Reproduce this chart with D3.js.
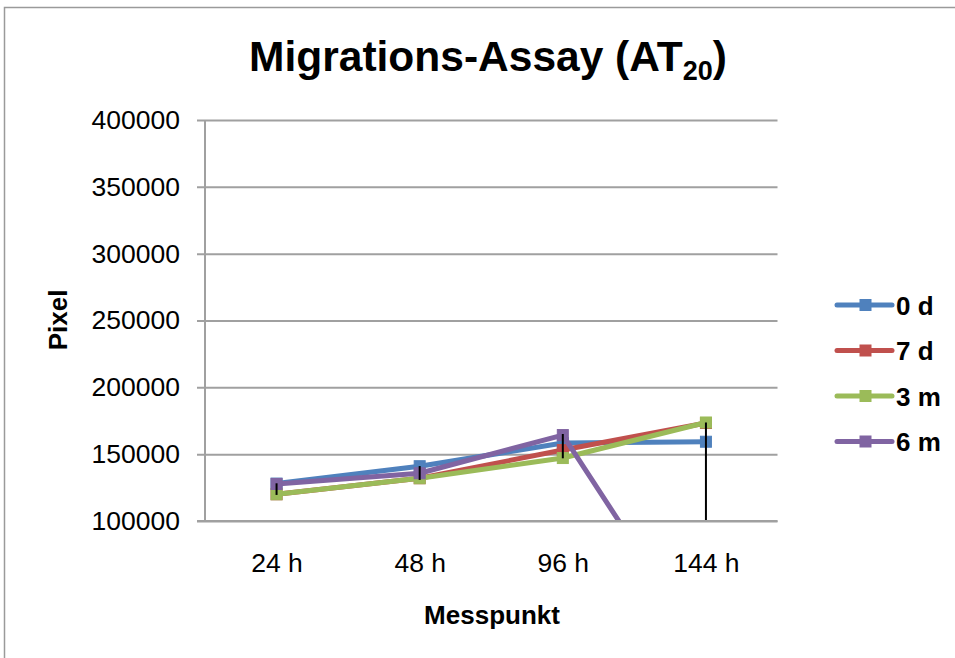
<!DOCTYPE html>
<html>
<head>
<meta charset="utf-8">
<script src="https://cdn.jsdelivr.net/npm/d3@7"></script>
<style>
  html, body { margin: 0; padding: 0; background: #fff; }
  svg { display: block; font-family: "Liberation Sans", Arial, sans-serif; }
</style>
</head>
<body>
<svg id="chart" width="955" height="658"></svg>
<script>
// Measuring points (category axis)
const categories = ["24 h", "48 h", "96 h", "144 h"];

// Migrated pixel area per series
const series0d = [128000, 141000, 158300, 159300];
const series7d = [120000, 132000, 153100, 173300];
const series3m = [120000, 132000, 147100, 173700];
const series6m = [127700, 135700, 164300, 0];

const seriesNames = ["0 d", "7 d", "3 m", "6 m"];
const seriesColors = ["#4F81BD", "#C0504D", "#9BBB59", "#8064A2"];

// Error bar ranges per measuring point
const errLow = [119500, 130700, 146900, 0];
const errHigh = [128200, 141100, 165100, 173700];

// Y axis ticks
const yTicks = [100000, 150000, 200000, 250000, 300000, 350000, 400000];

const seriesData = [series0d, series7d, series3m, series6m];

const svg = d3.select("#chart");
const plot = { left: 205, right: 777.5, top: 120, bottom: 521 };

// Outer chart border
svg.append("rect")
  .attr("x", 4.5).attr("y", 7.5)
  .attr("width", 1000).attr("height", 1000)
  .attr("fill", "#fff")
  .attr("stroke", "#9a9a9a")
  .attr("stroke-width", 1.5);

const x = d3.scalePoint()
  .domain(categories)
  .range([plot.left, plot.right])
  .padding(0.5);

const y = d3.scaleLinear()
  .domain([100000, 400000])
  .range([plot.bottom, plot.top]);

// Horizontal gridlines with tick labels
const yAxis = d3.axisLeft(y)
  .tickValues(yTicks)
  .tickSize(-(plot.right - plot.left) - 8)
  .tickPadding(17)
  .tickFormat(d3.format("d"));

const yg = svg.append("g")
  .attr("transform", `translate(${plot.right},0)`)
  .call(yAxis);
yg.select(".domain").remove();
yg.selectAll(".tick line")
  .attr("x1", -(plot.right - plot.left) - 8)
  .attr("x2", 0)
  .attr("stroke", "#a0a0a0")
  .attr("stroke-width", 2);
yg.selectAll(".tick text")
  .attr("x", -(plot.right - plot.left) - 25)
  .attr("fill", "#000")
  .attr("font-size", 26.5)
  .attr("font-family", "'Liberation Sans', Arial, sans-serif");

// Vertical axis line
svg.append("line")
  .attr("x1", plot.left).attr("x2", plot.left)
  .attr("y1", plot.top).attr("y2", plot.bottom)
  .attr("stroke", "#a0a0a0").attr("stroke-width", 2);

// Category axis labels
const xAxis = d3.axisBottom(x).tickSize(0).tickPadding(32);
const xg = svg.append("g")
  .attr("transform", `translate(0,${plot.bottom})`)
  .call(xAxis);
xg.select(".domain").remove();
xg.selectAll(".tick text")
  .attr("fill", "#000")
  .attr("font-size", 26.5)
  .attr("font-family", "'Liberation Sans', Arial, sans-serif");

// Clip region for the data marks
svg.append("clipPath").attr("id", "plotClip")
  .append("rect")
  .attr("x", plot.left).attr("y", plot.top - 10)
  .attr("width", plot.right - plot.left + 10)
  .attr("height", plot.bottom - plot.top + 10);

const marks = svg.append("g").attr("clip-path", "url(#plotClip)");

const line = d3.line()
  .x((d, i) => x(categories[i]))
  .y(d => y(d));

seriesData.forEach((vals, si) => {
  const g = marks.append("g");
  g.append("path")
    .datum(vals)
    .attr("d", line)
    .attr("fill", "none")
    .attr("stroke", seriesColors[si])
    .attr("stroke-width", 5)
    .attr("stroke-linejoin", "round")
    .attr("stroke-linecap", "round");
  g.selectAll("rect")
    .data(vals)
    .join("rect")
    .attr("x", (d, i) => x(categories[i]) - 5.5)
    .attr("y", d => y(d) - 5.5)
    .attr("width", 11).attr("height", 11)
    .attr("fill", seriesColors[si])
    .attr("stroke", seriesColors[si])
    .attr("stroke-width", 1);
});

// Error bars
svg.append("clipPath").attr("id", "errClip")
  .append("rect")
  .attr("x", plot.left).attr("y", plot.top)
  .attr("width", plot.right - plot.left)
  .attr("height", plot.bottom - plot.top);

svg.append("g").attr("clip-path", "url(#errClip)")
  .selectAll("line")
  .data(categories)
  .join("line")
  .attr("x1", d => x(d)).attr("x2", d => x(d))
  .attr("y1", (d, i) => y(errHigh[i]))
  .attr("y2", (d, i) => y(errLow[i]))
  .attr("stroke", "#000")
  .attr("stroke-width", 2);

// Bottom axis line on top of the marks
svg.append("line")
  .attr("x1", plot.left - 8).attr("x2", plot.right)
  .attr("y1", plot.bottom).attr("y2", plot.bottom)
  .attr("stroke", "#a0a0a0").attr("stroke-width", 2);

// Title with subscript
const title = svg.append("text")
  .attr("x", 488).attr("y", 71)
  .attr("text-anchor", "middle")
  .attr("font-weight", "bold")
  .attr("font-size", 42.5)
  .attr("fill", "#000");
title.append("tspan").text("Migrations-Assay (AT");
title.append("tspan").attr("font-size", 27).attr("dy", 9).text("20");
title.append("tspan").attr("dy", -9).text(")");

// Axis titles
svg.append("text")
  .attr("transform", "translate(67,320) rotate(-90)")
  .attr("text-anchor", "middle")
  .attr("font-weight", "bold")
  .attr("font-size", 26)
  .attr("fill", "#000")
  .text("Pixel");

svg.append("text")
  .attr("x", 492).attr("y", 624)
  .attr("text-anchor", "middle")
  .attr("font-weight", "bold")
  .attr("font-size", 26)
  .attr("fill", "#000")
  .text("Messpunkt");

// Legend
const legend = svg.append("g").attr("transform", "translate(837,305)");
seriesNames.forEach((name, i) => {
  const row = legend.append("g").attr("transform", `translate(0,${i * 45.5})`);
  row.append("line")
    .attr("x1", 0).attr("x2", 55)
    .attr("stroke", seriesColors[i])
    .attr("stroke-width", 5)
    .attr("stroke-linecap", "round");
  row.append("rect")
    .attr("x", 22.5).attr("y", -6)
    .attr("width", 12).attr("height", 12)
    .attr("fill", seriesColors[i]);
  row.append("text")
    .attr("x", 59).attr("y", 9.5)
    .attr("font-weight", "bold")
    .attr("font-size", 26)
    .attr("fill", "#000")
    .text(name);
});
</script>
</body>
</html>
